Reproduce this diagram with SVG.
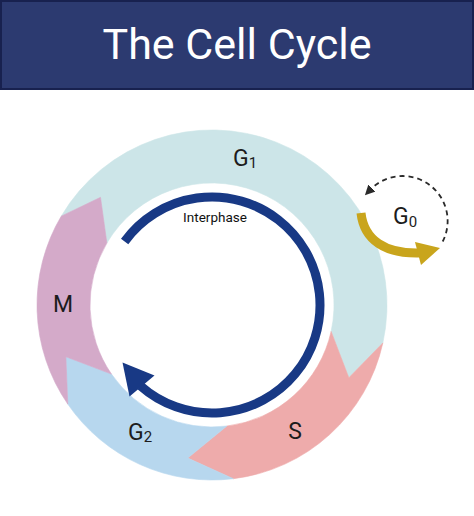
<svg xmlns="http://www.w3.org/2000/svg" width="474" height="516" viewBox="0 0 474 516">
  <style>
    .lbl { font-family: Roboto, "Liberation Sans", sans-serif; font-size: 23px; fill: #1c1c1c; }
    .sub { font-size: 15px; }
    .seg { stroke-width: 0.6; }
  </style>
  <defs>
    <marker id="dashHead" viewBox="0 0 10 10" refX="2" refY="5" markerWidth="10" markerHeight="10" markerUnits="userSpaceOnUse" orient="auto">
      <path d="M0,0 L10,5 L0,10 Z" fill="#2a2a2a"/>
    </marker>
  </defs>
  <rect width="474" height="516" fill="#ffffff"/>

  <g id="header">
    <rect x="1" y="1" width="472" height="88" fill="#2c3a70" stroke="#18214f" stroke-width="2"/>
    <text x="237" y="59" text-anchor="middle" font-family="Roboto, 'Liberation Sans', sans-serif" font-size="43" fill="#ffffff">The Cell Cycle</text>
  </g>

  <g id="phase-G1">
    <path class="seg" fill="#cce5e8" stroke="#cce5e8" d="M61.21,216.18 A175,175 0 0 1 382.85,342.88 L348.86,377.77 L331.11,331.41 A122,122 0 0 0 106.88,243.08 L100.50,197.33 Z"/>
    <text class="lbl" x="233" y="166">G<tspan class="sub" dy="2">1</tspan></text>
  </g>
  <g id="phase-S">
    <path class="seg" fill="#eeabab" stroke="#eeabab" d="M382.85,342.88 A175,175 0 0 1 233.33,478.70 L187.75,458.09 L226.87,426.09 A122,122 0 0 0 331.11,331.41 L348.86,377.77 Z"/>
    <text class="lbl" x="295" y="439" text-anchor="middle">S</text>
  </g>
  <g id="phase-G2">
    <path class="seg" fill="#b7d7ee" stroke="#b7d7ee" d="M233.33,478.70 A175,175 0 0 1 67.78,404.12 L65.89,356.74 L111.46,374.10 A122,122 0 0 0 226.87,426.09 L187.75,458.09 Z"/>
    <text class="lbl" x="128" y="440">G<tspan class="sub" dy="2">2</tspan></text>
  </g>
  <g id="phase-M">
    <path class="seg" fill="#d4aac9" stroke="#d4aac9" d="M67.78,404.12 A175,175 0 0 1 61.21,216.18 L100.50,197.33 L106.88,243.08 A122,122 0 0 0 111.46,374.10 L65.89,356.74 Z"/>
    <text class="lbl" x="63" y="312" text-anchor="middle">M</text>
  </g>

  <g id="interphase">
    <path d="M124.63,241.52 A108,108 0 1 1 140.44,385.89" fill="none" stroke="#183985" stroke-width="9"/>
    <polygon points="122.5,362.5 129.5,396.5 154.5,375.5" fill="#183985"/>
    <text x="215" y="222" text-anchor="middle" font-family="Roboto, 'Liberation Sans', sans-serif" font-size="13.5" fill="#111111">Interphase</text>
  </g>

  <g id="phase-G0">
    <text class="lbl" x="393" y="224">G<tspan class="sub" dy="2.5">0</tspan></text>
  </g>

  <g id="connectors">
    <path d="M361,213 C364,240 385,254 420,253" fill="none" stroke="#c9a51c" stroke-width="9"/>
    <polygon points="440,248 415,242 421,265" fill="#c9a51c"/>
    <path d="M442.7,241.5 A45,45 0 0 0 370.5,189.5" fill="none" stroke="#2a2a2a" stroke-width="1.8" stroke-dasharray="5,4" marker-end="url(#dashHead)"/>
  </g>
</svg>
